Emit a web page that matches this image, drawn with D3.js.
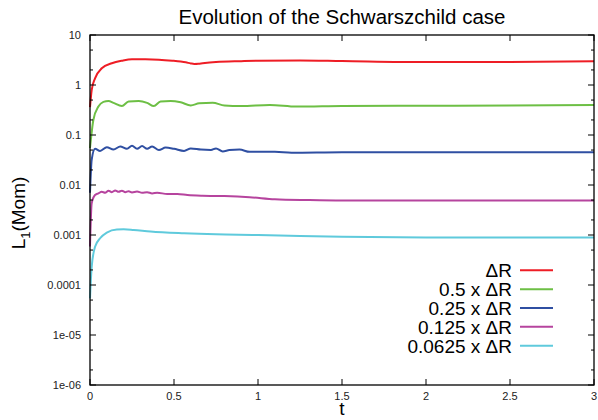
<!DOCTYPE html>
<html>
<head>
<meta charset="utf-8">
<script src="https://cdn.jsdelivr.net/npm/d3@7"></script>
<style>
    body { margin: 0; background: #fff; }
    svg { display: block; font-family: "Liberation Sans", Arial, sans-serif; }
</style>
</head>
<body>
<svg id="chart" width="598" height="420"></svg>
<script>
// values
const seriesNames = ["\u0394R", "0.5 x \u0394R", "0.25 x \u0394R", "0.125 x \u0394R", "0.0625 x \u0394R"];
const seriesColors = ["#ee1d25", "#6dbf45", "#2f4fa2", "#b6449e", "#5fcadc"];

const redT = [0, 0.01, 0.03, 0.07, 0.13, 0.19, 0.25, 0.33, 0.41, 0.49, 0.54, 0.57, 0.6, 0.62, 0.645, 0.67, 0.75, 0.9, 1.0, 1.25, 1.5, 2.0, 2.5, 3.0];
const redV = [0.36, 0.79, 1.36, 2.16, 2.72, 3.06, 3.27, 3.27, 3.21, 3.06, 2.94, 2.84, 2.7, 2.64, 2.66, 2.72, 2.88, 3.0, 3.06, 3.1, 3.02, 2.88, 2.88, 2.98];

const greenT = [0, 0.02, 0.05, 0.08, 0.11, 0.14, 0.19, 0.23, 0.29, 0.34, 0.38, 0.42, 0.48, 0.54, 0.6, 0.65, 0.73, 0.8, 0.9, 1.07, 1.23, 1.5, 2.0, 2.5, 3.0];
const greenV = [0.055, 0.2, 0.37, 0.46, 0.48, 0.44, 0.38, 0.47, 0.48, 0.44, 0.38, 0.47, 0.48, 0.45, 0.39, 0.43, 0.44, 0.39, 0.38, 0.40, 0.37, 0.38, 0.385, 0.39, 0.40];

const blueT = [0, 0.01, 0.03, 0.06, 0.1, 0.14, 0.18, 0.22, 0.25, 0.28, 0.31, 0.34, 0.37, 0.41, 0.45, 0.5, 0.56, 0.6, 0.66, 0.72, 0.75, 0.79, 0.83, 0.89, 0.95, 1.1, 1.2, 1.5, 2.0, 2.5, 3.0];
const blueV = [0.007, 0.032, 0.053, 0.048, 0.057, 0.051, 0.059, 0.053, 0.061, 0.053, 0.06, 0.053, 0.059, 0.05, 0.056, 0.053, 0.048, 0.054, 0.051, 0.05, 0.054, 0.047, 0.05, 0.051, 0.046, 0.046, 0.044, 0.045, 0.045, 0.045, 0.045];

const magentaT = [0, 0.01, 0.03, 0.05, 0.07, 0.09, 0.11, 0.13, 0.15, 0.17, 0.19, 0.21, 0.23, 0.25, 0.28, 0.31, 0.34, 0.37, 0.4, 0.46, 0.52, 0.58, 0.67, 0.8, 0.95, 1.1, 1.3, 1.5, 2.0, 2.5, 3.0];
const magentaV = [0.00059, 0.0043, 0.0063, 0.0068, 0.0073, 0.0070, 0.0077, 0.0072, 0.0078, 0.0073, 0.0077, 0.0072, 0.0075, 0.0071, 0.0074, 0.0070, 0.0072, 0.0068, 0.0070, 0.0066, 0.0066, 0.0063, 0.0061, 0.006, 0.0057, 0.0052, 0.005, 0.0049, 0.0049, 0.0049, 0.0049];

const cyanT = [0, 0.01, 0.03, 0.06, 0.1, 0.16, 0.2, 0.26, 0.36, 0.56, 0.75, 1.0, 1.25, 1.5, 2.0, 2.5, 3.0];
const cyanV = [0.000054, 0.00023, 0.00058, 0.00086, 0.00112, 0.00129, 0.0013, 0.00126, 0.00117, 0.00108, 0.00103, 0.001, 0.00095, 0.00092, 0.00089, 0.00089, 0.00089];

const xTicks = [0, 0.5, 1, 1.5, 2, 2.5, 3];
const xTickLabels = ["0", "0.5", "1", "1.5", "2", "2.5", "3"];
const yTicks = [10, 1, 0.1, 0.01, 0.001, 0.0001, 1e-5, 1e-6];
const yTickLabels = ["10", "1", "0.1", "0.01", "0.001", "0.0001", "1e-05", "1e-06"];

const plotLeft = 90, plotRight = 594, plotTop = 35, plotBottom = 385;

const svg = d3.select("#chart");

const xScale = d3.scaleLinear().domain([0, 3]).range([plotLeft, plotRight]);
const yScale = d3.scaleLog().domain([1e-6, 10]).range([plotBottom, plotTop]);

// series table
const allT = [redT, greenT, blueT, magentaT, cyanT];
const allV = [redV, greenV, blueV, magentaV, cyanV];
const series = seriesNames.map(function (name, i) {
    return {
        name: name,
        color: seriesColors[i],
        points: allT[i].map(function (t, j) { return [t, allV[i][j]]; })
    };
});

// curves
const line = d3.line()
    .x(function (d) { return xScale(d[0]); })
    .y(function (d) { return yScale(d[1]); })
    .curve(d3.curveMonotoneX);

svg.append("g")
    .selectAll("path")
    .data(series)
    .join("path")
    .attr("fill", "none")
    .attr("stroke", function (d) { return d.color; })
    .attr("stroke-width", 2)
    .attr("stroke-linejoin", "round")
    .attr("d", function (d) { return line(d.points); });

// frame
svg.append("rect")
    .attr("x", plotLeft)
    .attr("y", plotTop)
    .attr("width", plotRight - plotLeft)
    .attr("height", plotBottom - plotTop)
    .attr("fill", "none")
    .attr("stroke", "#000")
    .attr("stroke-width", 1.3);

// x ticks (inward, mirrored on top)
const xg = svg.append("g");
xg.selectAll("path")
    .data(xTicks)
    .join("path")
    .attr("stroke", "#000")
    .attr("d", function (d) {
        const x = xScale(d);
        return `M${x},${plotBottom}V${plotBottom - 6}M${x},${plotTop}V${plotTop + 6}`;
    });
xg.selectAll("text")
    .data(xTicks)
    .join("text")
    .attr("x", function (d) { return xScale(d); })
    .attr("y", 400)
    .attr("text-anchor", "middle")
    .attr("font-size", 11)
    .attr("fill", "#222")
    .text(function (d, i) { return xTickLabels[i]; });

// y ticks (major + minor at 2 and 5)
const minorTicks = [];
yTicks.forEach(function (d) {
    if (d < 10) {
        minorTicks.push(d * 2, d * 5);
    }
});
const yg = svg.append("g");
yg.selectAll(".ymaj")
    .data(yTicks)
    .join("path")
    .attr("class", "ymaj")
    .attr("stroke", "#000")
    .attr("d", function (d) {
        const y = yScale(d);
        return `M${plotLeft},${y}H${plotLeft + 6}M${plotRight},${y}H${plotRight - 6}`;
    });
yg.selectAll(".ymin")
    .data(minorTicks)
    .join("path")
    .attr("class", "ymin")
    .attr("stroke", "#000")
    .attr("d", function (d) {
        const y = yScale(d);
        return `M${plotLeft},${y}H${plotLeft + 3}M${plotRight},${y}H${plotRight - 3}`;
    });
yg.selectAll("text")
    .data(yTicks)
    .join("text")
    .attr("x", 81)
    .attr("y", function (d) { return yScale(d) + 4; })
    .attr("text-anchor", "end")
    .attr("font-size", 11)
    .attr("fill", "#222")
    .text(function (d, i) { return yTickLabels[i]; });

// title and axis labels
svg.append("text")
    .attr("x", (plotLeft + plotRight) / 2)
    .attr("y", 24)
    .attr("text-anchor", "middle")
    .attr("font-size", 20.5)
    .text("Evolution of the Schwarszchild case");

svg.append("text")
    .attr("x", 342)
    .attr("y", 415)
    .attr("text-anchor", "middle")
    .attr("font-size", 19)
    .text("t");

const yLabel = svg.append("text")
    .attr("transform", "translate(25,213) rotate(-90)")
    .attr("text-anchor", "middle")
    .attr("font-size", 19);
yLabel.append("tspan").text("L");
yLabel.append("tspan").attr("font-size", 13).attr("dy", 5).text("1");
yLabel.append("tspan").attr("dy", -5).text("(Mom)");

// legend
const legend = svg.append("g")
    .selectAll("g")
    .data(series)
    .join("g")
    .attr("transform", function (d, i) { return `translate(0, ${270.3 + i * 18.85})`; });
legend.append("text")
    .attr("x", 512)
    .attr("y", 7)
    .attr("text-anchor", "end")
    .attr("font-size", 19)
    .text(function (d) { return d.name; });
legend.append("line")
    .attr("x1", 520)
    .attr("x2", 553)
    .attr("stroke", function (d) { return d.color; })
    .attr("stroke-width", 2);
</script>
</body>
</html>
